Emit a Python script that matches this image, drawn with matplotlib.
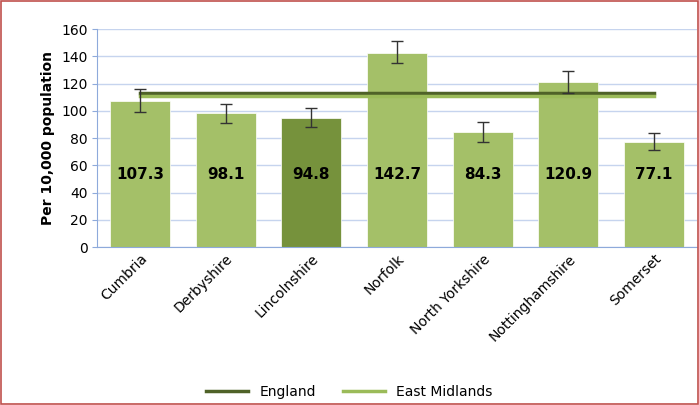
import matplotlib.pyplot as plt
import numpy as np

areas = ['Cumbria', 'Derbyshire', 'Lincolnshire', 'Norfolk', 'North Yorkshire', 'Nottinghamshire', 'Somerset']
rates = [107.3, 98.1, 94.8, 142.7, 84.3, 120.9, 77.1]
lower = [99, 91, 88, 135, 77, 113, 71]
upper = [116, 105, 102, 151, 92, 129, 84]
england = 113
east_midlands = 111

fig = plt.figure(figsize=(6.99, 4.05), dpi=100)
ax = fig.add_axes([0.139, 0.39, 0.858, 0.538])
fig.patches.append(plt.Rectangle((0.002, 0.002), 0.996, 0.996, transform=fig.transFigure,
                                 fill=False, edgecolor='#c0504d', linewidth=1.2))

x = np.arange(len(areas))
colors = ['#a4c068'] * len(areas)
colors[2] = '#76923c'
ax.bar(x, rates, width=0.7, color=colors, edgecolor='white', linewidth=0.5, zorder=2)
err = [np.array(rates) - np.array(lower), np.array(upper) - np.array(rates)]
ax.errorbar(x, rates, yerr=err, fmt='none', ecolor='#333333', elinewidth=1, capsize=4, zorder=4)
ax.plot([x[0], x[-1]], [england, england], color='#4f6228', lw=2.5, label='England', zorder=3)
ax.plot([x[0], x[-1]], [east_midlands, east_midlands], color='#9bbb59', lw=2.5, label='East Midlands', zorder=3)

for xi, v in zip(x, rates):
    ax.text(xi, 53, f'{v:.1f}', ha='center', va='center', fontsize=11, fontweight='bold', zorder=5)

ax.set_xlim(-0.5, len(areas) - 0.5)
ax.set_ylim(0, 160)
ax.set_yticks(range(0, 161, 20))
ax.grid(axis='y', color='#c6d4ee', lw=1, zorder=0)
ax.set_axisbelow(True)
for s in ['top', 'right']:
    ax.spines[s].set_visible(False)
ax.spines['left'].set_color('#8eaadb')
ax.spines['bottom'].set_color('#8eaadb')
ax.tick_params(axis='y', labelsize=10, color='#8eaadb')
ax.set_xticks(x)
ax.set_xticklabels(areas, rotation=45, ha='right', rotation_mode='anchor', fontsize=10)
ax.tick_params(axis='x', length=0)
ax.set_ylabel('Per 10,000 population', fontsize=10, fontweight='bold')

fig.legend(loc='lower center', bbox_to_anchor=(0.5, -0.015), ncol=2, frameon=False, fontsize=10, handlelength=3)

fig.savefig('out.png', dpi=100)
